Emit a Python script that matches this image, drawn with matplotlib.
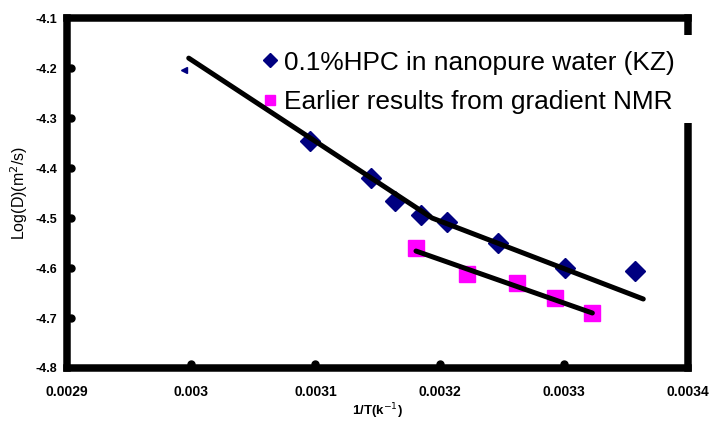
import numpy as np
import matplotlib.pyplot as plt
from matplotlib.patches import Rectangle

plt.rcParams['font.family'] = ['Liberation Sans', 'DejaVu Sans']

# 0.1% HPC in nanopure water (KZ)
kz_x = [0.003096, 0.003145, 0.003164, 0.003185, 0.003206, 0.003247, 0.003301, 0.003357]
kz_y = [-4.346, -4.420, -4.466, -4.494, -4.508, -4.550, -4.600, -4.606]
# half hidden point at the top left
kz_part_x = [0.002994]
kz_part_y = [-4.204]

# earlier results from gradient NMR
nmr_x = [0.003181, 0.003222, 0.003262, 0.003293, 0.003323]
nmr_y = [-4.560, -4.612, -4.630, -4.660, -4.690]

# trend lines
kz_fit_x = [0.002998, 0.003194, 0.003364]
kz_fit_y = [-4.180, -4.500, -4.662]
nmr_fit_x = [0.003181, 0.003323]
nmr_fit_y = [-4.566, -4.690]

xticks = [0.0029, 0.003, 0.0031, 0.0032, 0.0033, 0.0034]
xlabels = ['0.0029', '0.003', '0.0031', '0.0032', '0.0033', '0.0034']
yticks = [-4.8, -4.7, -4.6, -4.5, -4.4, -4.3, -4.2, -4.1]

navy = '#000080'
pink = '#FF00FF'

fig = plt.figure(figsize=(7.1, 4.22), dpi=100)
ax = fig.add_axes([0.0944, 0.128, 0.8746, 0.829])

ax.plot(kz_x, kz_y, 'D', color=navy, markersize=10.5, linestyle='none',
        label='0.1%HPC in nanopure water (KZ)', zorder=3)
ax.plot(kz_part_x, kz_part_y, '<', color=navy, markersize=4, linestyle='none', zorder=3)
ax.plot(nmr_x, nmr_y, 's', color=pink, markersize=11, linestyle='none',
        label='Earlier results from gradient NMR', zorder=3)
ax.plot(kz_fit_x, kz_fit_y, color='k', linewidth=3.6, solid_capstyle='round', zorder=5)
ax.plot(nmr_fit_x, nmr_fit_y, color='k', linewidth=3.6, solid_capstyle='round', zorder=5)

ax.set_xlim(0.0029, 0.0034)
ax.set_ylim(-4.8, -4.1)
ax.set_xticks(xticks)
ax.set_xticklabels(xlabels)
ax.set_yticks(yticks)
ax.set_yticklabels([f'{v:.1f}' for v in yticks])
ax.tick_params(axis='x', length=0, pad=12)
ax.tick_params(axis='y', length=0, pad=7)
for lab in ax.get_xticklabels():
    lab.set_fontweight('bold')
    lab.set_fontsize(10)
for lab in ax.get_yticklabels():
    lab.set_fontweight('bold')
    lab.set_fontsize(9)

for sp in ax.spines.values():
    sp.set_linewidth(5.4)
    sp.set_capstyle('projecting')

# round tick dots just inside the frame
ax.plot(xticks[1:-1], [0.012] * 4, 'o', color='k', markersize=5,
        transform=ax.get_xaxis_transform(), clip_on=False, zorder=6)
ax.plot([0.006] * 6, yticks[1:-1], 'o', color='k', markersize=5,
        transform=ax.get_yaxis_transform(), clip_on=False, zorder=6)

ax.set_xlabel('1/T(k$^{-1}$)', fontweight='bold', fontsize=9.5, labelpad=2)
ax.set_ylabel('Log(D)(m$^2$/s)', fontsize=11.5, labelpad=4)

leg = ax.legend(loc='upper left', bbox_to_anchor=(0.30, 0.937), frameon=True,
                fontsize=18.9, handlelength=0.5, handletextpad=0.25,
                borderaxespad=0, labelspacing=0.6, markerscale=0.7)
leg.get_frame().set_edgecolor('none')
leg.get_frame().set_facecolor('white')
leg.get_frame().set_alpha(1)
leg.set_zorder(4)

# legend box runs over the right frame line
ax.add_patch(Rectangle((0.97, 0.70), 0.06, 0.251, transform=ax.transAxes,
                       facecolor='white', edgecolor='none', clip_on=False, zorder=4))

fig.savefig('out.png', dpi=100)
